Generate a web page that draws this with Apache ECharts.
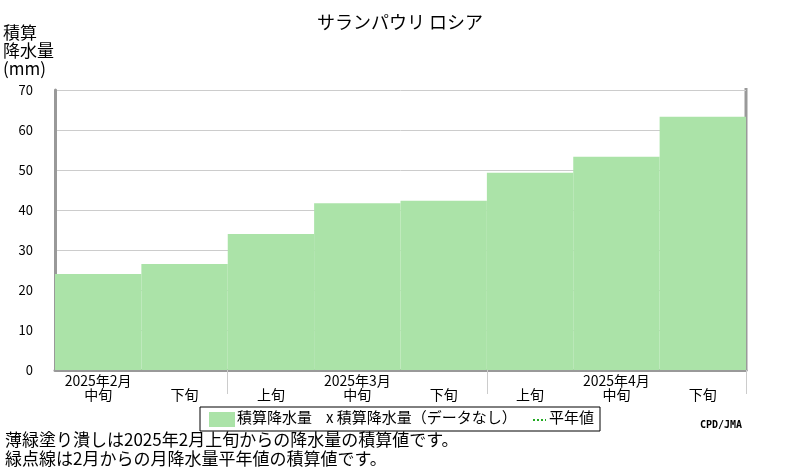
<!DOCTYPE html>
<html>
<head>
<meta charset="utf-8">
<script src="https://cdn.jsdelivr.net/npm/echarts@6/dist/echarts.min.js"></script>
<style>body{margin:0;background:#fff}#main{width:800px;height:470px}</style>
</head>
<body>
<div id="main"></div>
<script>
var months = ['2025年2月', '2025年2月', '2025年3月', '2025年3月', '2025年3月', '2025年4月', '2025年4月', '2025年4月'];
var periods = ['中旬', '下旬', '上旬', '中旬', '下旬', '上旬', '中旬', '下旬'];
var values = [24, 26.5, 34, 41.7, 42.3, 49.3, 53.3, 63.3];
var yTicks = [0, 10, 20, 30, 40, 50, 60, 70];

var font = '"Noto Sans CJK JP", sans-serif';
var categories = periods.map(function (p, i) { return months[i] + p; });

var option = {
    animation: false,
    textStyle: { fontFamily: font },
    title: {
        text: 'サランパウリ ロシア',
        left: 'center',
        top: 8,
        textStyle: { fontSize: 18, fontWeight: 'normal', color: '#000', fontFamily: font }
    },
    grid: { left: 52, right: 54, top: 90, bottom: 100 },
    xAxis: {
        type: 'category',
        data: categories,
        axisLine: { lineStyle: { color: '#999', width: 3 } },
        axisTick: {
            show: true, length: 24, lineStyle: { color: '#ccc' },
            interval: function (i) { return i === 2 || i === 5; }
        },
        axisLabel: {
            interval: 0, color: '#000', fontSize: 14, lineHeight: 14, margin: 4,
            formatter: function (v, i) {
                return (periods[i] === '中旬' ? months[i] : ' ') + '\n' + periods[i];
            }
        }
    },
    yAxis: {
        type: 'value',
        min: 0, max: 70, interval: 10,
        name: '積算\n降水量\n(mm)',
        nameLocation: 'end',
        nameGap: 12,
        nameTextStyle: { align: 'left', padding: [0, 0, 0, -52], fontSize: 17, lineHeight: 18, color: '#000' },
        axisLine: { show: true, lineStyle: { color: '#999', width: 3 } },
        axisTick: { show: false },
        splitLine: { lineStyle: { color: '#ccc' } },
        axisLabel: {
            color: '#000', fontSize: 13, margin: 22,
            formatter: function (v) { return yTicks.indexOf(v) >= 0 ? v : ''; }
        }
    },
    series: [{
        name: '積算降水量',
        type: 'bar',
        data: values,
        barCategoryGap: '0%',
        itemStyle: { color: '#abe3a8' }
    }],
    graphic: [
        { type: 'line', shape: { x1: 746, y1: 88, x2: 746, y2: 371 }, style: { stroke: '#999', lineWidth: 3 } },
        { type: 'rect', shape: { x: 200, y: 407, width: 400, height: 24 }, style: { fill: '#fff', stroke: '#000', lineWidth: 1 } },
        { type: 'rect', shape: { x: 209, y: 412, width: 26, height: 15 }, style: { fill: '#abe3a8' } },
        { type: 'text', x: 237, y: 410, style: { text: '積算降水量', fontSize: 15, fill: '#000', fontFamily: font } },
        { type: 'text', x: 326, y: 410, style: { text: 'x 積算降水量（データなし）', fontSize: 15, fill: '#000', fontFamily: font } },
        { type: 'line', shape: { x1: 533, y1: 420, x2: 546, y2: 420 }, style: { stroke: '#2a2', lineWidth: 2, lineDash: [2, 2] } },
        { type: 'text', x: 549, y: 410, style: { text: '平年値', fontSize: 15, fill: '#000', fontFamily: font } },
        { type: 'text', x: 700, y: 420, style: { text: 'CPD/JMA', fontSize: 10, fontWeight: 'bold', fill: '#000', fontFamily: 'DejaVu Sans Mono' } },
        { type: 'text', x: 5, y: 431, style: { text: '薄緑塗り潰しは2025年2月上旬からの降水量の積算値です。', fontSize: 17, fill: '#000', fontFamily: font } },
        { type: 'text', x: 5, y: 450, style: { text: '緑点線は2月からの月降水量平年値の積算値です。', fontSize: 17, fill: '#000', fontFamily: font } }
    ]
};

var chart = echarts.init(document.getElementById('main'));
chart.setOption(option);
</script>
</body>
</html>
